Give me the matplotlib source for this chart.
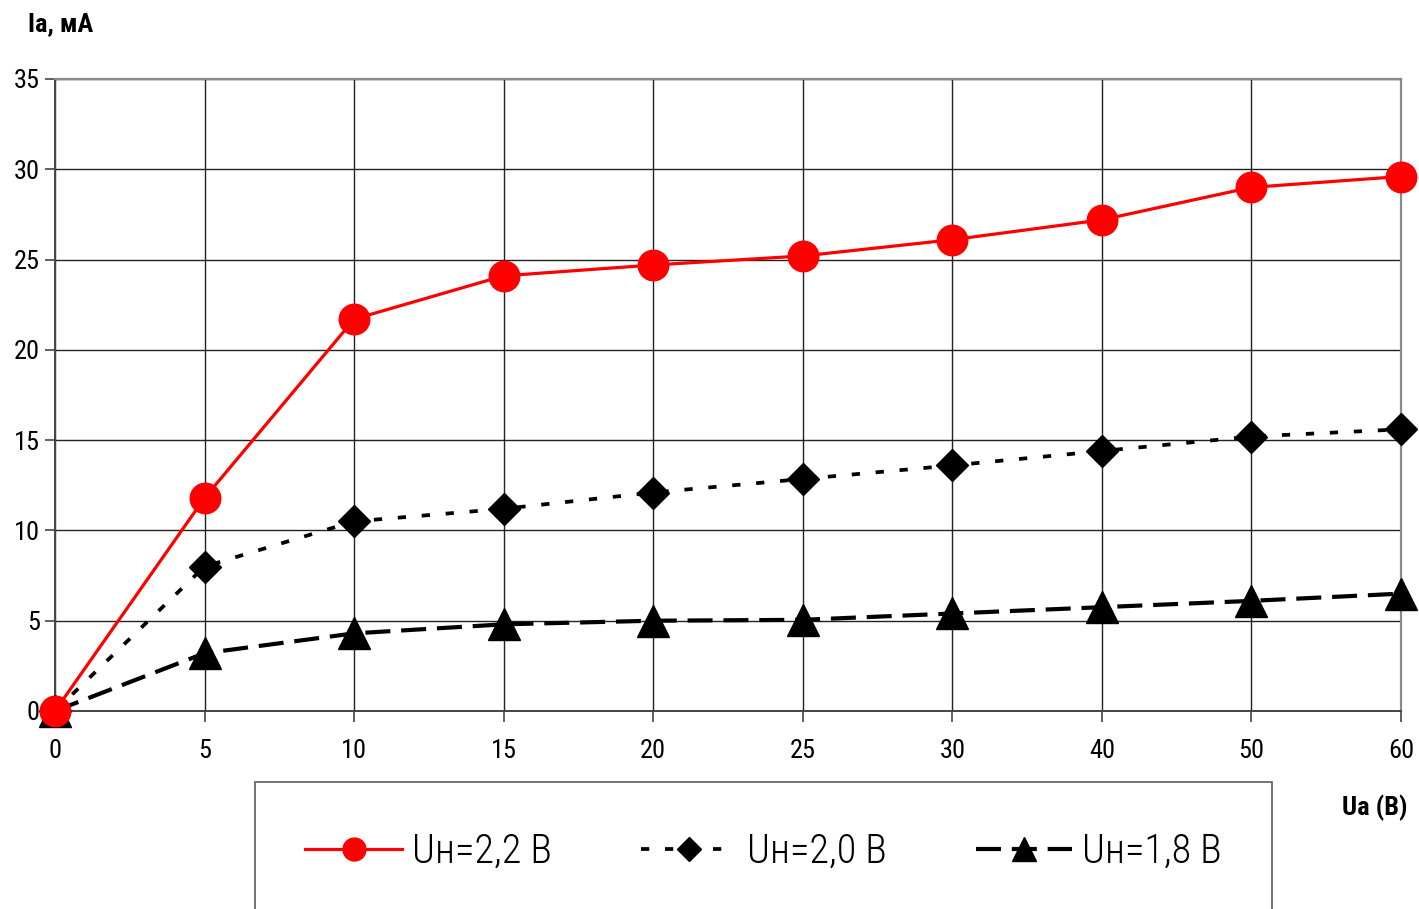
import matplotlib
matplotlib.use("Agg")
import matplotlib.pyplot as plt

plt.rcParams['font.family'] = ['Roboto Condensed', 'Archivo Narrow', 'DejaVu Sans']

categories = ["0", "5", "10", "15", "20", "25", "30", "40", "50", "60"]
ia_22 = [0.0, 11.8, 21.7, 24.1, 24.7, 25.2, 26.1, 27.2, 29.0, 29.6]
ia_20 = [0.0, 8.0, 10.5, 11.2, 12.1, 12.85, 13.6, 14.4, 15.2, 15.6]
ia_18 = [0.0, 3.2, 4.3, 4.8, 5.0, 5.05, 5.4, 5.75, 6.1, 6.5]
labels = ["Uн=2,2 В", "Uн=2,0 В", "Uн=1,8 В"]
yticks = [0, 5, 10, 15, 20, 25, 30, 35]

W, H = 1419, 909
fig = plt.figure(figsize=(W / 100, H / 100), dpi=100)
ax = fig.add_axes([55 / W, 1 - 711 / H, (1401 - 55) / W, (711 - 79) / H])

x = list(range(len(categories)))

l1, = ax.plot(x, ia_22, color='#ff0000', lw=2.3, marker='o', ms=22,
              mfc='#ff0000', mec='#ff0000', clip_on=False, zorder=5)
l2, = ax.plot(x, ia_20, color='black', lw=2.7, marker='D', ms=16,
              mfc='black', mec='black', clip_on=False, zorder=4,
              dashes=(2.2, 4.2))
l3, = ax.plot(x, ia_18, color='black', lw=3.0, marker='^', ms=23,
              mfc='black', mec='black', clip_on=False, zorder=3,
              dashes=(6, 2.6))

ax.set_xlim(0, len(categories) - 1)
ax.set_ylim(0, 35)
ax.set_xticks(x)
ax.set_xticklabels(categories)
ax.set_yticks(yticks)
ax.set_yticklabels([str(v) for v in yticks])
ax.grid(True, color='#222222', lw=1.0)
ax.set_axisbelow(True)
for s in ['top', 'right']:
    ax.spines[s].set_color('#8a8a8a')
    ax.spines[s].set_linewidth(1.6)
for s in ['left', 'bottom']:
    ax.spines[s].set_color('#444444')
    ax.spines[s].set_linewidth(1.4)
ax.tick_params(axis='y', direction='out', length=7, width=1.2,
               color='#444444', labelsize=19, pad=4)
ax.tick_params(axis='x', direction='out', length=8, width=1.2,
               color='#444444', labelsize=19, pad=12)

fig.text(28 / W, 1 - 24 / H, "Ia, мА", fontsize=19, fontweight='bold',
         family=['Roboto Condensed', 'Liberation Sans', 'DejaVu Sans'],
         ha='left', va='center')
fig.text(1375 / W, 1 - 808 / H, "Ua (В)", fontsize=19, fontweight='bold',
         family=['Roboto Condensed', 'Liberation Sans', 'DejaVu Sans'],
         ha='center', va='center')

leg = fig.legend([l1, l2, l3], labels, ncol=3, loc='upper left',
                 bbox_to_anchor=(255 / W, 1 - 782 / H),
                 prop={'size': 29, 'weight': 'light'},
                 handlelength=2.4, handletextpad=0.25,
                 columnspacing=2.2, borderpad=1.25, borderaxespad=0,
                 fancybox=False, frameon=True, markerscale=0.75)
leg.get_frame().set_edgecolor('#333333')
leg.get_frame().set_linewidth(1.2)

fig.savefig("out.png", dpi=100)
